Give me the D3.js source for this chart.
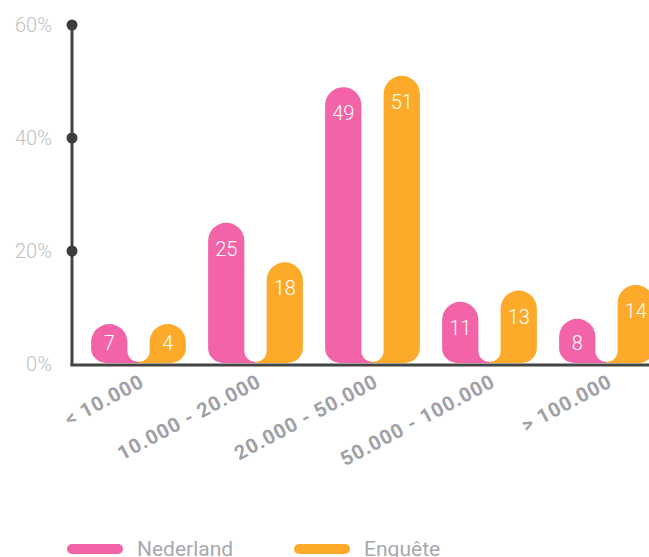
<!DOCTYPE html>
<html>
<head>
<meta charset="utf-8">
<script src="https://cdn.jsdelivr.net/npm/d3@7"></script>
<style>
  html, body { margin: 0; padding: 0; background: #fff; overflow: hidden; }
  svg { display: block; font-family: Roboto, "Noto Sans", sans-serif; }
</style>
</head>
<body>
<svg id="chart" width="649" height="557"></svg>
<script>
const categories = ["< 10.000", "10.000 - 20.000", "20.000 - 50.000", "50.000 - 100.000", "> 100.000"];
const seriesNames = ["Nederland", "Enquête"];
const nederland = [7, 25, 49, 11, 8];
const enquete = [4, 18, 51, 13, 14];
const yTicks = [0, 20, 40, 60];
const colors = ["#f263a7", "#fdaa2b"];

const svg = d3.select("#chart");
const baseY = 364;
const y = d3.scaleLinear().domain([0, 60]).range([baseY, 25]);
const x0 = d3.scaleBand().domain(categories).range([80, 665]).paddingInner(0).paddingOuter(0);
const x1 = d3.scaleBand().domain(seriesNames).range([0, x0.bandwidth()]).paddingInner(0.38).paddingOuter(0.19);

const data = categories.map((c, i) => ({ cat: c, vals: [nederland[i], enquete[i]] }));

const w = x1.bandwidth();
const r = w / 2;
const R = 15;
const barBase = 363;
const gap = x1.step() - w;
const nr = gap / 2;
const nb = 362;
const minH = 39;

function topOf(v) { return Math.min(y(v), barBase - minH); }

function leftPath(xl, top) {
  const xr = xl + w;
  return `M${xl},${barBase - R} V${top + r} A${r},${r} 0 0 1 ${xr},${top + r} V${nb - nr} A${nr},${nr} 0 0 0 ${xr + nr + 0.5},${nb} V${barBase} H${xl + R} A${R},${R} 0 0 1 ${xl},${barBase - R} Z`;
}
function rightPath(xl, top) {
  const xr = xl + w;
  return `M${xr},${barBase - R} V${top + r} A${r},${r} 0 0 0 ${xl},${top + r} V${nb - nr} A${nr},${nr} 0 0 1 ${xl - nr - 0.5},${nb} V${barBase} H${xr - R} A${R},${R} 0 0 0 ${xr},${barBase - R} Z`;
}

const groups = svg.append("g").selectAll("g").data(data).join("g")
  .attr("transform", d => `translate(${x0(d.cat)},0)`);

groups.each(function(d) {
  const g = d3.select(this);
  d.vals.forEach((v, si) => {
    const xl = x1(seriesNames[si]);
    const top = topOf(v);
    g.append("path")
      .attr("d", si === 0 ? leftPath(xl, top) : rightPath(xl, top))
      .attr("fill", colors[si]);
    g.append("text")
      .attr("x", xl + w / 2)
      .attr("y", Math.min(top + 26, 343))
      .attr("dy", "0.35em")
      .attr("text-anchor", "middle")
      .attr("fill", "#fff")
      .attr("font-size", 20)
      .attr("font-weight", 300)
      .text(v);
  });
});

// Y axis
const yAxis = d3.axisLeft(y).tickValues(yTicks).tickSize(0).tickPadding(0).tickFormat(d => d + "%");
const yg = svg.append("g").attr("transform", "translate(72,0)").call(yAxis);
yg.select(".domain").remove();
yg.selectAll(".tick text")
  .attr("x", -20)
  .attr("fill", "#c0c0c4")
  .attr("font-size", 20)
  .attr("font-weight", 300)
  .attr("font-family", "Roboto, sans-serif");
svg.append("line").attr("x1", 72).attr("x2", 72).attr("y1", y(60)).attr("y2", baseY + 1.5)
  .attr("stroke", "#444").attr("stroke-width", 3);
svg.append("g").selectAll("circle").data(yTicks.filter(t => t > 0)).join("circle")
  .attr("cx", 72).attr("cy", d => y(d)).attr("r", 5.5).attr("fill", "#3c3c3c");

// X axis
svg.append("line").attr("x1", 70.5).attr("x2", 680).attr("y1", baseY + 1).attr("y2", baseY + 1)
  .attr("stroke", "#444").attr("stroke-width", 3);
const xAxis = d3.axisBottom(x0).tickSize(0).tickPadding(0);
const xg = svg.append("g").attr("transform", `translate(0,${baseY})`).call(xAxis);
xg.select(".domain").remove();
xg.selectAll(".tick text")
  .attr("text-anchor", "end")
  .attr("transform", "translate(7,22) rotate(-28)")
  .attr("y", 0).attr("dy", 0)
  .attr("fill", "#a0a0a6")
  .attr("font-size", 20)
  .attr("letter-spacing", "1px")
  .attr("font-weight", 700)
  .attr("font-family", "Roboto, sans-serif");

// Legend
const legend = svg.append("g").selectAll("g").data(seriesNames).join("g")
  .attr("transform", (d, i) => `translate(${[67, 294][i]},0)`);
legend.append("rect").attr("x", 0).attr("y", 544).attr("width", 56).attr("height", 10).attr("rx", 5)
  .attr("fill", (d, i) => colors[i]);
legend.append("text").attr("x", 70).attr("y", 556).attr("fill", "#a8a8ae")
  .attr("font-size", 21).attr("font-weight", 400).text(d => d);
</script>
</body>
</html>
